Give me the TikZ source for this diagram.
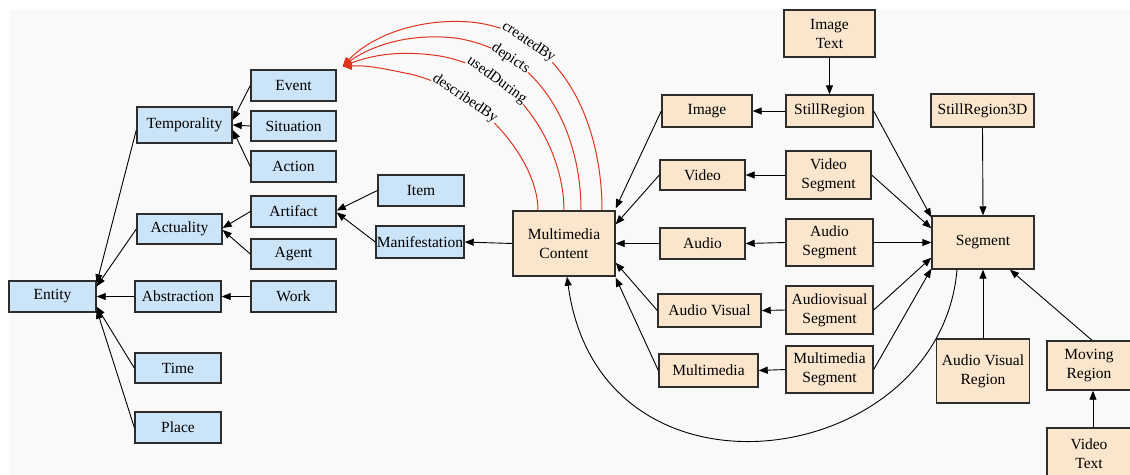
\documentclass[tikz,border=0pt]{standalone}
\usepackage{fontspec}
\setmainfont{Liberation Serif}
\usetikzlibrary{arrows.meta}
\definecolor{bg}{RGB}{249,249,249}
\definecolor{blu}{RGB}{204,228,248}
\definecolor{bei}{RGB}{250,230,205}
\definecolor{boxline}{RGB}{45,45,45}
\definecolor{edgered}{RGB}{222,52,30}
\begin{document}
\begin{tikzpicture}[x=1pt,y=-1pt,
  box/.style={draw=boxline, line width=1.4pt, inner sep=0pt, font=\fontsize{15.5}{19}\selectfont, align=center},
  bl/.style={box, fill=blu},
  be/.style={box, fill=bei},
  arr/.style={-{Triangle[length=9pt,width=7pt]}, line width=0.9pt},
  rarr/.style={-{Triangle[length=9pt,width=8pt]}, draw=edgered, line width=1pt},
  lbl/.style={sloped, fill=bg, inner sep=0.5pt, font=\fontsize{15}{17}\selectfont}]
\useasboundingbox (0,0) rectangle (1130,474);
\clip (0,0) rectangle (1130,474);
\fill[bg] (9,10) rectangle (1131,475);

% left (blue) nodes
\node[bl, minimum width=87pt, minimum height=31pt] (entity) at (52.5,296.5) {Entity};
\node[bl, minimum width=86pt, minimum height=31pt] (abstraction) at (178,296.5) {Abstraction};
\node[bl, minimum width=85pt, minimum height=31pt] (work) at (293.5,296.5) {Work};
\node[bl, minimum width=86pt, minimum height=30pt] (time) at (178,368) {Time};
\node[bl, minimum width=86pt, minimum height=31pt] (place) at (178,427.5) {Place};
\node[bl, minimum width=95pt, minimum height=36pt] (temporality) at (184.5,125) {Temporality};
\node[bl, minimum width=85pt, minimum height=31pt] (event) at (293.5,85.5) {Event};
\node[bl, minimum width=85pt, minimum height=30pt] (situation) at (293.5,126) {Situation};
\node[bl, minimum width=85pt, minimum height=31pt] (action) at (293.5,166.5) {Action};
\node[bl, minimum width=85pt, minimum height=30pt] (actuality) at (179.5,229) {Actuality};
\node[bl, minimum width=85pt, minimum height=31pt] (artifact) at (293.5,211.5) {Artifact};
\node[bl, minimum width=85pt, minimum height=30pt] (agent) at (293.5,254) {Agent};
\node[bl, minimum width=86pt, minimum height=31pt] (item) at (421,190.5) {Item};
\node[bl, minimum width=88pt, minimum height=32pt] (manifestation) at (420,242) {Manifestation};

% right (beige) nodes
\node[be, minimum width=102pt, minimum height=65pt] (mmc) at (564,243.5) {Multimedia\\Content};
\node[be, minimum width=90pt, minimum height=32pt] (image) at (707,111) {Image};
\node[be, minimum width=87pt, minimum height=32pt] (stillregion) at (829.5,111) {StillRegion};
\node[be, minimum width=91pt, minimum height=47pt] (imagetext) at (829.5,33.5) {Image\\Text};
\node[be, minimum width=85pt, minimum height=30pt] (video) at (702.5,175) {Video};
\node[be, minimum width=85pt, minimum height=48pt] (videoseg) at (828.5,175) {Video\\Segment};
\node[be, minimum width=85pt, minimum height=31pt] (audio) at (702.5,243.5) {Audio};
\node[be, minimum width=87pt, minimum height=47pt] (audioseg) at (829.5,242.5) {Audio\\Segment};
\node[be, minimum width=103pt, minimum height=33pt] (audiovisual) at (709.5,310.5) {Audio Visual};
\node[be, minimum width=87pt, minimum height=48pt] (avseg) at (829.5,310) {Audiovisual\\Segment};
\node[be, minimum width=99pt, minimum height=33pt] (multimedia) at (708.5,370.5) {Multimedia};
\node[be, minimum width=87pt, minimum height=47pt] (mmseg) at (829.5,369.5) {Multimedia\\Segment};
\node[be, minimum width=103pt, minimum height=33pt] (srd) at (982.5,110.5) {StillRegion3D};
\node[be, minimum width=102pt, minimum height=53pt] (seg) at (983,242.5) {Segment};
\node[be, minimum width=93pt, minimum height=64pt] (avr) at (983,371) {Audio Visual\\Region};
\node[be, minimum width=84pt, minimum height=49pt] (mr) at (1089,365.5) {Moving\\Region};
\node[be, minimum width=84pt, minimum height=52pt] (vt) at (1089,454) {Video\\Text};

% left tree edges
\draw[arr] ([yshift=-5pt]temporality.west) -- ([yshift=-3pt]entity.north east);
\draw[arr] (actuality.west) -- ([yshift=-6pt]entity.north east);
\draw[arr] (abstraction.west) -- (entity.east);
\draw[arr] (time.west) -- ([yshift=6pt]entity.south east);
\draw[arr] (place.west) -- ([yshift=3pt]entity.south east);
\draw[arr] (event.west) -- ([yshift=5pt]temporality.east);
\draw[arr] (situation.west) -- (temporality.east);
\draw[arr] (action.west) -- ([yshift=-5pt]temporality.east);
\draw[arr] (artifact.west) -- ([yshift=1pt]actuality.east);
\draw[arr] (agent.west) -- ([yshift=-1pt]actuality.east);
\draw[arr] (work.west) -- (abstraction.east);
\draw[arr] (item.west) -- ([yshift=1pt]artifact.east);
\draw[arr] (manifestation.west) -- ([yshift=-1pt]artifact.east);
\draw[arr] (mmc.west) -- (manifestation.east);

% red property arcs
\draw[rarr] ([xshift=38pt]mmc.north) .. controls (602,120) and (560,30) .. (470,22)
  node[lbl, pos=0.75] {createdBy}
  .. controls (420,18) and (372,35) .. ([shift={(6pt,3pt)}]event.north east);
\draw[rarr] ([xshift=17pt]mmc.north) .. controls (581,130) and (540,50) .. (455,38)
  node[lbl, pos=0.75] {depicts}
  .. controls (410,33) and (372,45) .. ([shift={(6pt,3pt)}]event.north east);
\draw[rarr] (mmc.north) .. controls (564,150) and (520,70) .. (440,56)
  node[lbl, pos=0.73] {usedDuring}
  .. controls (400,50) and (372,55) .. ([shift={(6pt,3pt)}]event.north east);
\draw[rarr] ([xshift=-26pt]mmc.north) .. controls (538,160) and (480,90) .. (410,74)
  node[lbl, pos=0.72] {describedBy}
  .. controls (385,69) and (368,65) .. ([shift={(6pt,3pt)}]event.north east);

% media edges into Multimedia Content
\draw[arr] (image.west) -- ([yshift=2pt]mmc.north east);
\draw[arr] (video.west) -- ([yshift=-14pt]mmc.north east);
\draw[arr] (audio.west) -- (mmc.east);
\draw[arr] (audiovisual.west) -- ([yshift=14pt]mmc.south east);
\draw[arr] (multimedia.west) -- ([yshift=-1pt]mmc.south east);

% segments to media
\draw[arr] (stillregion.west) -- (image.east);
\draw[arr] (imagetext.south) -- (stillregion.north);
\draw[arr] (videoseg.west) -- (video.east);
\draw[arr] (audioseg.west) -- (audio.east);
\draw[arr] (avseg.west) -- (audiovisual.east);
\draw[arr] (mmseg.west) -- (multimedia.east);

% into Segment
\draw[arr] (stillregion.east) -- ([yshift=-2pt]seg.north west);
\draw[arr] (videoseg.east) -- ([yshift=-13pt]seg.north west);
\draw[arr] (audioseg.east) -- (seg.west);
\draw[arr] (avseg.east) -- ([yshift=12pt]seg.south west);
\draw[arr] (mmseg.east) -- ([yshift=1pt]seg.south west);
\draw[arr] (srd.south) -- (seg.north);
\draw[arr] (avr.north) -- (seg.south);
\draw[arr] ([xshift=3pt]mr.north) -- ([xshift=27pt]seg.south);
\draw[arr] ([xshift=4pt]vt.north) -- ([xshift=4pt]mr.south);

% Segment back to Multimedia Content
\draw[arr] ([xshift=-26pt]seg.south) .. controls (940,470) and (600,520) .. ([xshift=3pt]mmc.south);
\end{tikzpicture}
\end{document}
